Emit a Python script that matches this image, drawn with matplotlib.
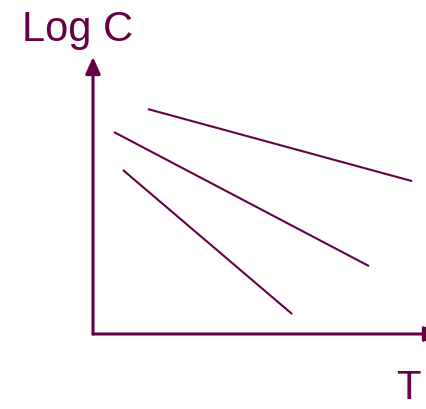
import matplotlib.pyplot as plt

# schematic data: T on x, log C on y (arbitrary units 0-10)
line_names = ["top", "middle", "bottom"]
t_start = [1.65, 0.63, 0.90]
t_end = [9.58, 8.29, 5.98]
logc_start = [8.12, 7.29, 5.92]
logc_end = [5.52, 2.45, 0.72]

col = "#660044"
plt.rcParams["font.family"] = ["Liberation Sans", "DejaVu Sans"]

fig = plt.figure(figsize=(4.26, 4.10), dpi=100)
ax = fig.add_axes([93 / 426, 75 / 410, 333 / 426, 277 / 410])
ax.set_xlim(0, 10)
ax.set_ylim(0, 10)
ax.axis("off")

for i in range(len(line_names)):
    ax.plot([t_start[i], t_end[i]], [logc_start[i], logc_end[i]], color=col, lw=1.5,
            solid_capstyle="butt")

# axes with arrows
ax.annotate("", xy=(0, 1), xytext=(0, 0), xycoords="axes fraction",
            arrowprops=dict(arrowstyle="-|>,head_length=1.0,head_width=0.45",
                            color=col, lw=2.2, shrinkA=0, shrinkB=0))
ax.annotate("", xy=(1.045, 0), xytext=(0, 0), xycoords="axes fraction",
            arrowprops=dict(arrowstyle="-|>,head_length=1.0,head_width=0.45",
                            color=col, lw=2.2, shrinkA=0, shrinkB=0))

fig.text(22 / 426, 1 - 41 / 410, "Log C", color=col, fontsize=30, va="baseline", ha="left")
fig.text(396 / 426, 1 - 399 / 410, "T", color=col, fontsize=29, va="baseline", ha="left")

fig.savefig("out.png", dpi=100)
